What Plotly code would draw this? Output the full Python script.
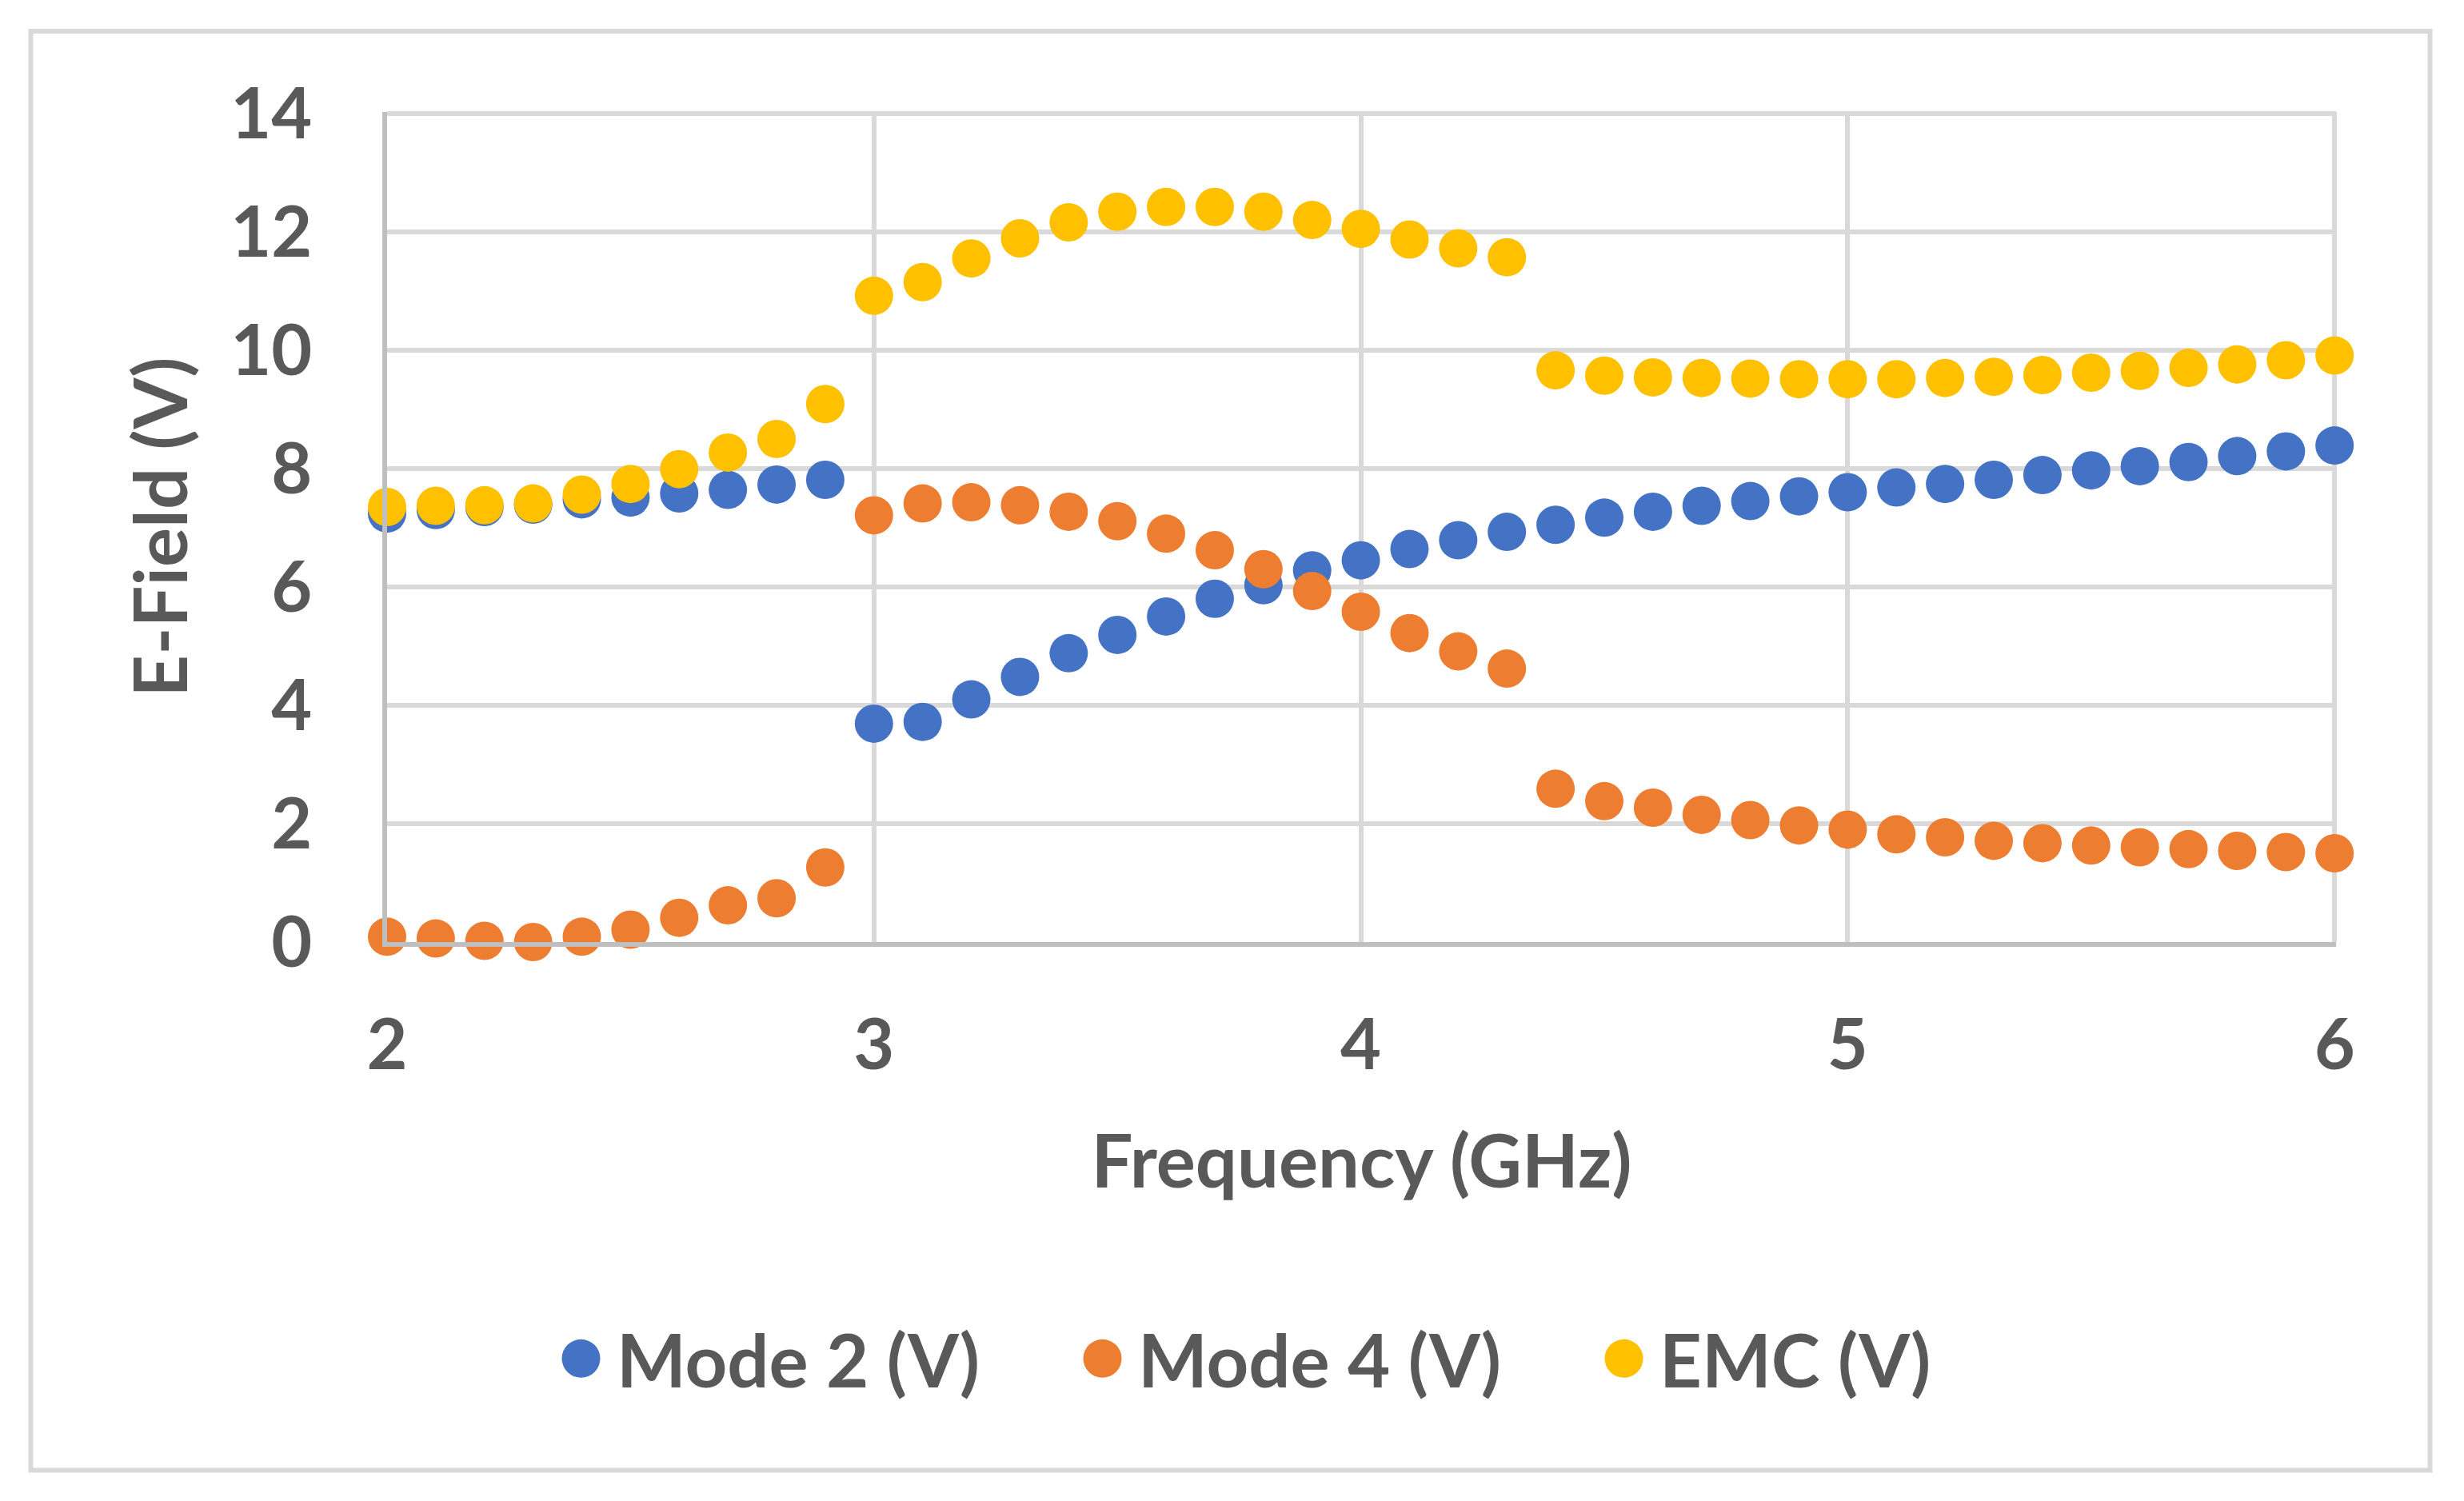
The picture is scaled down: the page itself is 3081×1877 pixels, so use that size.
import plotly.graph_objects as go

# ---- data ----
freq = [2.0, 2.1, 2.2, 2.3, 2.4, 2.5, 2.6, 2.7, 2.8, 2.9,
        3.0, 3.1, 3.2, 3.3, 3.4, 3.5, 3.6, 3.7, 3.8, 3.9,
        4.0, 4.1, 4.2, 4.3, 4.4, 4.5, 4.6, 4.7, 4.8, 4.9,
        5.0, 5.1, 5.2, 5.3, 5.4, 5.5, 5.6, 5.7, 5.8, 5.9,
        6.0]

mode2 = [7.24, 7.30, 7.35, 7.39, 7.48, 7.51, 7.58, 7.64, 7.73, 7.81,
         3.69, 3.72, 4.10, 4.48, 4.88, 5.19, 5.50, 5.80, 6.03, 6.28,
         6.45, 6.64, 6.79, 6.93, 7.05, 7.17, 7.27, 7.37, 7.45, 7.53,
         7.60, 7.68, 7.74, 7.81, 7.89, 7.97, 8.04, 8.11, 8.21, 8.29,
         8.39]

mode4 = [0.09, 0.06, 0.02, 0.00, 0.09, 0.21, 0.41, 0.62, 0.74, 1.26,
         7.21, 7.41, 7.43, 7.38, 7.27, 7.11, 6.90, 6.62, 6.30, 5.93,
         5.58, 5.22, 4.91, 4.62, 2.59, 2.38, 2.27, 2.15, 2.06, 1.97,
         1.90, 1.82, 1.77, 1.71, 1.67, 1.63, 1.60, 1.57, 1.54, 1.52,
         1.50]

emc = [7.35, 7.37, 7.38, 7.41, 7.56, 7.74, 7.99, 8.27, 8.50, 9.09,
       10.92, 11.15, 11.55, 11.89, 12.16, 12.34, 12.42, 12.42, 12.34, 12.20,
       12.05, 11.87, 11.72, 11.57, 9.66, 9.57, 9.54, 9.53, 9.52, 9.51,
       9.51, 9.51, 9.53, 9.55, 9.58, 9.62, 9.65, 9.70, 9.76, 9.83,
       9.91]

series_names = ["Mode 2 (V)", "Mode 4 (V)", "EMC (V)"]
series_values = [mode2, mode4, emc]
series_colors = ["#4472C4", "#ED7D31", "#FFC000"]

x_ticks = [2, 3, 4, 5, 6]
y_ticks = [0, 2, 4, 6, 8, 10, 12, 14]

# ---- figure ----
W, H = 3081, 1877
ML, MR, MT, MB = 484, 160, 140, 699
FONT = "Lato"
TXT = "#595959"
FS = 88
FS_T = 92
GRID = "#D9D9D9"

fig = go.Figure()
for name, vals, col in zip(series_names, series_values, series_colors):
    fig.add_trace(go.Scatter(
        x=freq, y=vals, name=name, mode="markers",
        marker=dict(size=48, color=col, line=dict(width=0)),
        cliponaxis=False,
    ))

pw = W - ML - MR
ph = H - MT - MB

def px_x(p):
    return (p - ML) / pw

def px_y(p):
    return (H - MB - p) / ph

fig.update_layout(
    width=W, height=H,
    margin=dict(l=ML, r=MR, t=MT, b=MB, pad=0),
    paper_bgcolor="white", plot_bgcolor="white",
    font=dict(family=FONT, size=FS, color=TXT, weight="bold"),
    showlegend=True,
    legend=dict(
        orientation="h",
        xref="container", yref="container",
        x=682 / W, xanchor="left",
        y=1 - 1699 / H, yanchor="middle",
        font=dict(family=FONT, size=FS_T, color=TXT, weight="bold"),
        entrywidthmode="pixels", entrywidth=558,
        itemwidth=79,
        bgcolor="rgba(0,0,0,0)",
    ),
    xaxis=dict(
        range=[2, 6.003], tickvals=x_ticks, ticktext=[str(v) for v in x_ticks],
        showgrid=True, gridcolor=GRID, gridwidth=6,
        showline=True, linecolor="#BFBFBF", linewidth=6,
        zeroline=False, ticks="", ticklabelstandoff=47,
        tickfont=dict(family=FONT, size=FS, color=TXT, weight="bold"),
        title=dict(text="Frequency (GHz)", standoff=68,
                   font=dict(family=FONT, size=FS_T, color=TXT, weight="bold")),
    ),
    yaxis=dict(
        range=[0, 14.025], tickvals=y_ticks, ticktext=[str(v) for v in y_ticks],
        showgrid=True, gridcolor=GRID, gridwidth=6,
        showline=True, linecolor="#BFBFBF", linewidth=6,
        zeroline=False, ticks="", ticklabelstandoff=70,
        tickfont=dict(family=FONT, size=FS, color=TXT, weight="bold"),
        title=dict(text="E-Field (V)", standoff=25,
                   font=dict(family=FONT, size=FS_T, color=TXT, weight="bold")),
    ),
    shapes=[dict(
        type="rect", xref="paper", yref="paper",
        x0=px_x(38.5), x1=px_x(3038.5), y0=px_y(1838.5), y1=px_y(39),
        line=dict(color=GRID, width=6), fillcolor="rgba(0,0,0,0)",
        layer="below",
    )],
)

post = """
document.body.style.margin='0';
document.querySelectorAll('.legendpoints path.scatterpts').forEach(function(p){
  var t = p.getAttribute('transform') || '';
  p.setAttribute('transform', t + ' scale(3)');
});
"""
fig.write_html("out.html", post_script=post, config={"displayModeBar": False})
